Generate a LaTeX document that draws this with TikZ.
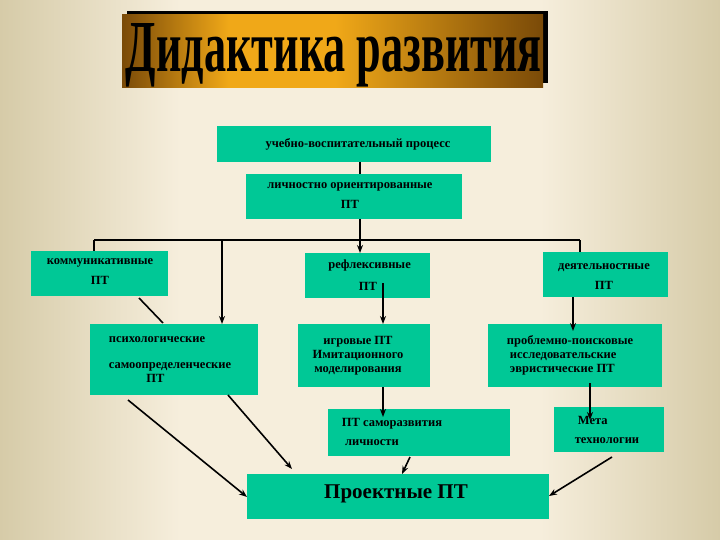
\documentclass[tikz,border=0pt]{standalone}
\usepackage{fontspec}
\setmainfont{Liberation Serif}
\usetikzlibrary{arrows.meta}
\definecolor{teal1}{HTML}{00C896}
\definecolor{bgedge}{HTML}{D6CBA8}
\definecolor{bgmid}{HTML}{F6EEDC}
\definecolor{golda}{HTML}{7A4A08}
\definecolor{goldb}{HTML}{F0A818}
\tikzset{
  box/.style={fill=teal1,draw=none},
  lbl/.style={font=\fontsize{12.5}{14}\selectfont\bfseries,text=black,align=left,inner sep=0},
  arr/.style={-{Stealth[length=8pt,width=6pt]},line width=1.6pt},
  ln/.style={line width=1.6pt}
}
\begin{document}
\begin{tikzpicture}[x=1pt,y=-1pt]
\useasboundingbox (0,0) rectangle (720,540);
\shade[left color=bgedge,right color=bgmid] (0,0) rectangle (180,540);
\fill[bgmid] (180,0) rectangle (540,540);
\shade[left color=bgmid,right color=bgedge] (540,0) rectangle (720,540);
% title
\fill[black] (127,11) rectangle (548,83);
\shade[left color=golda,right color=goldb,middle color=goldb] (122,15) rectangle (335,88);
\shade[left color=goldb,right color=golda] (335,15) rectangle (543,88);
\node[inner sep=0,anchor=base] (title) at (334,72) {\resizebox{416pt}{48pt}{\bfseries Дидактика развития}};
% boxes
\fill[box] (217,126) rectangle (491,162);
\node[lbl] (uvp) at (358,144) {учебно-воспитательный процесс};
\fill[box] (246,174) rectangle (462,219);
\node[lbl,align=center] (lo) at (350,196) {личностно ориентированные\\[6pt]ПТ};
\fill[box] (31,251) rectangle (168,296);
\node[lbl,align=center] (komm) at (100,272) {коммуникативные\\[6pt]ПТ};
\fill[box] (305,253) rectangle (430,298);
\node[lbl,align=center] (rfl) at (368,275) {\ рефлексивные\\[8pt]ПТ};
\fill[box] (543,252) rectangle (668,297);
\node[lbl,align=center] (dey) at (604,277) {деятельностные\\[6pt]ПТ};
\fill[box] (90,324) rectangle (258,395);
\node[lbl] (psy) at (170,360) {психологические\\[12pt]самоопределенческие\\ \hspace{3em}ПТ};
\fill[box] (298,324) rectangle (430,387);
\node[lbl,align=center] (igr) at (358,356) {игровые ПТ\\Имитационного\\моделирования};
\fill[box] (488,324) rectangle (662,387);
\node[lbl] (prb) at (570,355) {проблемно-поисковые\\ \ исследовательские\\ \ эвристические ПТ};
\fill[box] (328,409) rectangle (510,456);
\node[lbl] (sam) at (392,432) {ПТ саморазвития\\[5pt]\ личности};
\fill[box] (554,407) rectangle (664,452);
\node[lbl] (meta) at (607,430) {\ Мета\\[5pt]технологии};
\fill[box] (247,474) rectangle (549,519);
\node[inner sep=0,font=\fontsize{21}{24}\selectfont\bfseries] (prj) at (396,494) {Проектные ПТ};
% connectors
\coordinate (a1) at (360,162); \coordinate (a2) at (360,174);
\draw[ln] (a1) -- (a2);
\coordinate (b0) at (360,219); \coordinate (bj) at (360,240);
\coordinate (bl) at (94,240); \coordinate (br) at (580,240);
\draw[ln] (b0) -- (bj);
\draw[ln] (bl) -- (br);
\coordinate (kt) at (94,251); \draw[ln] (bl) -- (kt);
\coordinate (p0) at (222,240); \coordinate (p1) at (222,324); \draw[arr] (p0) -- (p1);
\coordinate (r1) at (360,253); \draw[arr] (bj) -- (r1);
\coordinate (d1) at (580,252); \draw[ln] (br) -- (d1);
\coordinate (k0) at (139,298); \coordinate (k1) at (163,323); \draw[ln] (k0) -- (k1);
\coordinate (rf0) at (383,283); \coordinate (rf1) at (383,324); \draw[arr] (rf0) -- (rf1);
\coordinate (dy0) at (573,297); \coordinate (dy1) at (573,331); \draw[arr] (dy0) -- (dy1);
\coordinate (ps0) at (128,400); \coordinate (ps1) at (247,497); \draw[arr] (ps0) -- (ps1);
\coordinate (ps2) at (228,395); \coordinate (ps3) at (292,469); \draw[arr] (ps2) -- (ps3);
\coordinate (ig0) at (383,387); \coordinate (ig1) at (383,417); \draw[arr] (ig0) -- (ig1);
\coordinate (pr0) at (590,383); \coordinate (pr1) at (590,420); \draw[arr] (pr0) -- (pr1);
\coordinate (sa0) at (410,457); \coordinate (sa1) at (402,474); \draw[arr] (sa0) -- (sa1);
\coordinate (me0) at (612,457); \coordinate (me1) at (549,496); \draw[arr] (me0) -- (me1);
\end{tikzpicture}
\end{document}
